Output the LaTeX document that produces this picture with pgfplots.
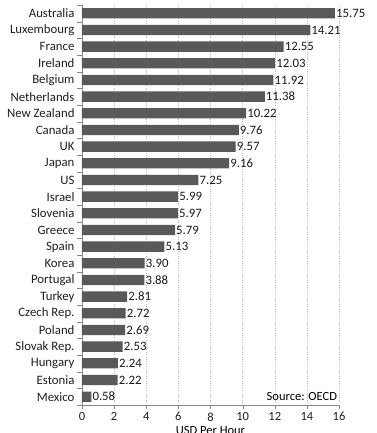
\documentclass[border=0pt]{standalone}
\usepackage{pgfplots}
\pgfplotsset{compat=1.18}
\usepackage{fontspec}
\setmainfont{Carlito}
\definecolor{bargray}{HTML}{595959}
\definecolor{axgray}{HTML}{868686}
\begin{document}
\begin{tikzpicture}
\useasboundingbox (0,0) rectangle (376pt,433pt);
\begin{axis}[
  at={(82pt,28pt)}, anchor=south west,
  scale only axis, width=257pt, height=400pt,
  xbar, bar width=0.62,
  xmin=0, xmax=16, ymin=-0.5, ymax=23.5,
  xtick={0,2,...,16},
  ytick={0,...,23},
  yticklabels={Mexico,Estonia,Hungary,Slovak Rep.,Poland,Czech Rep.,Turkey,Portugal,Korea,Spain,Greece,Slovenia,Israel,US,Japan,UK,Canada,New Zealand,Netherlands,Belgium,Ireland,France,Luxembourg,Australia},
  minor ytick={-0.5,0.5,...,23.5},
  every major y tick/.style={draw=none},
  every minor y tick/.style={draw=axgray},
  every major x tick/.style={draw=axgray},
  minor tick length=5pt, major tick length=4pt,
  tick align=outside,
  axis x line*=bottom, axis y line*=left,
  axis line style={draw=axgray,-},
  xmajorgrids, grid style={dotted, draw=gray!55},
  yticklabel style={font=\fontsize{12.8}{14}\selectfont, text=black!88},
  xticklabel style={font=\fontsize{12.5}{14}\selectfont, text=black!88},
  /pgf/number format/assume math mode=true,
  xlabel={USD Per Hour}, xlabel style={font=\fontsize{12.5}{14}\selectfont, yshift=2pt},
  nodes near coords,
  nodes near coords style={font=\fontsize{12.8}{14}\selectfont, text=black!90, anchor=west, inner sep=1pt,
    /pgf/number format/.cd, fixed, fixed zerofill, precision=2, assume math mode=true},
]
\addplot[fill=bargray, draw=none] coordinates {
(0.58,0) (2.22,1) (2.24,2) (2.53,3) (2.69,4) (2.72,5) (2.81,6) (3.88,7) (3.90,8)
(5.13,9) (5.79,10) (5.97,11) (5.99,12) (7.25,13) (9.16,14) (9.57,15) (9.76,16)
(10.22,17) (11.38,18) (11.92,19) (12.03,20) (12.55,21) (14.21,22) (15.75,23)};
\node[anchor=east, font=\fontsize{12.5}{14}\selectfont, inner sep=1pt] at (axis cs:15.95,0) {Source: OECD};
\end{axis}
\end{tikzpicture}
\end{document}
